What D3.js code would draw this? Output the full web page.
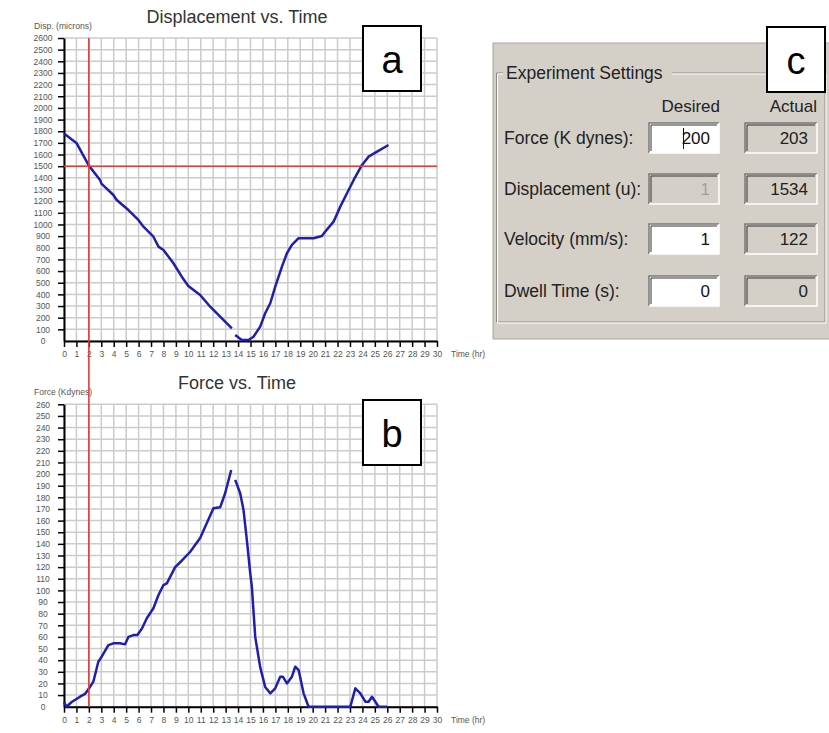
<!DOCTYPE html>
<html>
<head>
<meta charset="utf-8">
<script src="https://cdn.jsdelivr.net/npm/d3@7"></script>
<style>
  body { margin: 0; background: #fff; }
  svg { display: block; }
</style>
</head>
<body>
<svg id="chart" width="829" height="733"></svg>
<script>
// time axis (hours) shared by both plots
var timeTicks = d3.range(0, 31);
var dispTicks = d3.range(0, 2700, 100);
var forceTicks = d3.range(0, 270, 10);

// displacement (microns), null = gap in trace
var dispTime  = [0, 1.0, 2.0, 2.9, 3.03, 3.97, 4.24, 5.18, 5.98, 6.39, 7.19, 7.6, 8.0, 8.8, 9.47, 10.0, 10.95, 11.76, 12.56, 13.5, 13.62, 13.77, 14.3, 14.84, 15.24, 15.78, 16.18, 16.59, 16.99, 17.53, 17.93, 18.33, 18.87, 20.07, 20.74, 21.0, 21.68, 22.22, 22.76, 23.3, 23.97, 24.5, 25.18, 26.1];
var dispValue = [1780, 1700, 1505, 1382, 1348, 1253, 1210, 1124, 1039, 981, 895, 810, 781, 667, 552, 472, 395, 294, 209, 109, null, 52, 9, 9, 37, 123, 238, 324, 466, 638, 753, 824, 882, 882, 901, 938, 1024, 1153, 1268, 1382, 1511, 1582, 1625, 1682];

// force (K dynes)
var forceTime  = [0, 0.2, 0.62, 1.29, 1.69, 2.09, 2.36, 2.76, 3.03, 3.57, 3.97, 4.5, 4.91, 5.18, 5.58, 5.9, 6.26, 6.66, 7.19, 7.6, 8.0, 8.27, 8.94, 9.47, 10.14, 10.95, 11.49, 12.02, 12.56, 12.96, 13.45, 13.6, 13.77, 14.17, 14.44, 14.71, 14.98, 15.11, 15.38, 15.78, 16.18, 16.59, 16.99, 17.39, 17.6, 17.93, 18.33, 18.6, 18.87, 19.27, 19.67, 23.03, 23.43, 23.83, 24.24, 24.5, 24.77, 25.04, 25.3, 25.98];
var forceValue = [4, 0, 4, 8.6, 11, 17, 21.5, 38.7, 43, 53, 54.5, 54.5, 53.6, 60, 61.6, 61.6, 67, 76, 84.6, 96, 104.6, 106, 120, 125.5, 133, 145, 158, 170.6, 171.4, 183.5, 203.5, null, 195, 183.5, 169, 143, 114.7, 103, 60, 34, 17, 11.5, 15.8, 25.8, 25.8, 20, 25.8, 34.4, 31.5, 11.5, 0, 0, 15.8, 11.5, 4.3, 4.3, 8.6, 4.3, 0, 0];

// cursor lines
var markerTime = 2;
var markerDisp = 1500;

// panel c settings
var settingLabels = ["Force (K dynes):", "Displacement (u):", "Velocity (mm/s):", "Dwell Time (s):"];
var desiredValues = ["200", "1", "1", "0"];
var actualValues  = ["203", "1534", "122", "0"];
var desiredEnabled = [true, false, true, true];

var svg = d3.select("#chart");
var font = "'Liberation Sans', Arial, sans-serif";

var x = d3.scaleLinear().domain([0, 30]).range([64, 437]);

function plot(opts) {
  var y = d3.scaleLinear().domain([0, opts.max]).range([opts.bottom, opts.top]);
  var g = svg.append("g");

  // grid
  g.append("g").selectAll("line").data(timeTicks).enter().append("line")
      .attr("x1", function(d) { return x(d); }).attr("x2", function(d) { return x(d); })
      .attr("y1", y(0)).attr("y2", y(opts.max))
      .attr("stroke", "#cbcbcb").attr("stroke-width", 1.5);
  g.append("g").selectAll("line").data(opts.yTicks).enter().append("line")
      .attr("x1", x(0)).attr("x2", x(30))
      .attr("y1", function(d) { return y(d); }).attr("y2", function(d) { return y(d); })
      .attr("stroke", "#cbcbcb").attr("stroke-width", 1.5);

  // axes
  var xa = g.append("g")
      .attr("transform", "translate(0," + y(0) + ")")
      .call(d3.axisBottom(x).tickValues(timeTicks).tickFormat(d3.format("d"))
        .tickSize(6).tickSizeOuter(0).tickPadding(4));
  var ya = g.append("g")
      .attr("transform", "translate(" + x(0) + ",0)")
      .call(d3.axisLeft(y).tickValues(opts.yTicks).tickFormat(d3.format("d"))
        .tickSize(6).tickSizeOuter(0));
  [xa, ya].forEach(function(a) {
    a.select(".domain").attr("stroke", "#000").attr("stroke-width", 2);
    a.selectAll(".tick line").attr("stroke", "#000").attr("stroke-width", 1.5);
    a.selectAll("text").attr("fill", "#555").style("font-family", font).style("font-size", "8.5px");
  });
  ya.selectAll("text").attr("text-anchor", "middle").attr("x", -21);
  ya.selectAll(".tick").filter(function(d) { return d === 0; }).select("line").remove();

  // trace
  var line = d3.line()
      .defined(function(d) { return d[1] !== null; })
      .x(function(d) { return x(d[0]); })
      .y(function(d) { return y(d[1]); });
  g.append("path")
      .datum(opts.time.map(function(t, i) { return [t, opts.values[i]]; }))
      .attr("fill", "none")
      .attr("stroke", "#1f1fae")
      .attr("stroke-width", 2.5)
      .attr("stroke-linejoin", "round")
      .attr("d", line);

  // titles
  g.append("text").attr("x", 237).attr("y", opts.top - 15)
      .attr("text-anchor", "middle").attr("fill", "#333")
      .style("font-family", font).style("font-size", "18px").text(opts.title);
  g.append("text").attr("x", 34).attr("y", opts.top - 9)
      .attr("fill", "#555").attr("textLength", 58).attr("lengthAdjust", "spacingAndGlyphs")
      .style("font-family", font).style("font-size", "9.5px").text(opts.yLabel);
  g.append("text").attr("x", 451).attr("y", y(0) + 16)
      .attr("fill", "#555").style("font-family", font).style("font-size", "8.5px").text("Time (hr)");

  return y;
}

var yDisp = plot({ top: 38, bottom: 341, max: 2600, yTicks: dispTicks, time: dispTime, values: dispValue,
  title: "Displacement vs. Time", yLabel: "Disp. (microns)" });
var yForce = plot({ top: 404.3, bottom: 706.7, max: 260, yTicks: forceTicks, time: forceTime, values: forceValue,
  title: "Force vs. Time", yLabel: "Force (Kdynes)" });

// red cursor lines
svg.append("line")
    .attr("x1", x(0)).attr("x2", x(30)).attr("y1", yDisp(markerDisp)).attr("y2", yDisp(markerDisp))
    .attr("stroke", "#e23b3b").attr("stroke-width", 1.6);
svg.append("line")
    .attr("x1", x(markerTime)).attr("x2", x(markerTime)).attr("y1", yDisp(2600)).attr("y2", yForce(0))
    .attr("stroke", "#e23b3b").attr("stroke-width", 1.6);

// panel letter boxes
function letterBox(x0, y0, letter) {
  svg.append("rect").attr("x", x0).attr("y", y0).attr("width", 58).attr("height", 65)
      .attr("fill", "#fff").attr("stroke", "#000").attr("stroke-width", 2);
  svg.append("text").attr("x", x0 + 29).attr("y", y0 + 47).attr("text-anchor", "middle")
      .attr("fill", "#000").style("font-family", font).style("font-size", "38px").text(letter);
}

// panel c: settings dialog
var pc = svg.append("g");
pc.append("rect").attr("x", 493).attr("y", 43).attr("width", 340).attr("height", 296)
    .attr("fill", "#d4d0c8").attr("stroke", "#a9a69f").attr("stroke-width", 1);
// etched group box with gap for caption
var gb = { l: 496.5, r: 825, t: 73, b: 322 };
[["#8d8a84", 0], ["#fff", 1]].forEach(function(s) {
  var o = s[1];
  pc.append("path")
      .attr("d", "M" + (503) + "," + (gb.t + o) + "H" + (gb.l + o) + "V" + (gb.b + o) + "H" + (gb.r + o) + "V" + (gb.t + o) + "H" + 672)
      .attr("fill", "none").attr("stroke", s[0]).attr("stroke-width", 1);
});
pc.append("text").attr("x", 506).attr("y", 79).attr("fill", "#222")
    .style("font-family", font).style("font-size", "17.5px").text("Experiment Settings");
pc.append("text").attr("x", 720).attr("y", 112).attr("text-anchor", "end").attr("fill", "#222")
    .style("font-family", font).style("font-size", "17px").text("Desired");
pc.append("text").attr("x", 817).attr("y", 112).attr("text-anchor", "end").attr("fill", "#222")
    .style("font-family", font).style("font-size", "17px").text("Actual");

var rowY = [138, 189, 239, 291];

function field(x0, yc, w, fill, val, color) {
  var y0 = yc - 15, h = 30;
  pc.append("rect").attr("x", x0).attr("y", y0).attr("width", w).attr("height", h).attr("fill", fill);
  pc.append("path").attr("d", "M" + x0 + "," + (y0 + h) + "V" + y0 + "H" + (x0 + w))
      .attr("fill", "none").attr("stroke", "#7a7873").attr("stroke-width", 1.5);
  pc.append("path").attr("d", "M" + (x0 + 2) + "," + (y0 + h - 2) + "V" + (y0 + 2) + "H" + (x0 + w - 2))
      .attr("fill", "none").attr("stroke", "#333").attr("stroke-width", 1);
  pc.append("path").attr("d", "M" + x0 + "," + (y0 + h) + "H" + (x0 + w) + "V" + y0)
      .attr("fill", "none").attr("stroke", "#fff").attr("stroke-width", 1.5);
  pc.append("text").attr("x", x0 + w - 9).attr("y", yc + 6).attr("text-anchor", "end").attr("fill", color)
      .style("font-family", font).style("font-size", "17px").text(val);
}

settingLabels.forEach(function(lab, i) {
  pc.append("text").attr("x", 504).attr("y", rowY[i] + 6).attr("fill", "#222")
      .style("font-family", font).style("font-size", "17.5px").text(lab);
  field(649, rowY[i], 70, desiredEnabled[i] ? "#fff" : "#d4d0c8", desiredValues[i], desiredEnabled[i] ? "#111" : "#a3a09a");
  field(745, rowY[i], 72, "#d4d0c8", actualValues[i], "#222");
});
// text cursor in the force field
pc.append("line").attr("x1", 683.5).attr("x2", 683.5).attr("y1", rowY[0] - 10).attr("y2", rowY[0] + 11)
    .attr("stroke", "#111").attr("stroke-width", 1);

letterBox(363, 26, "a");
letterBox(363, 400, "b");
letterBox(767, 27, "c");
</script>
</body>
</html>
